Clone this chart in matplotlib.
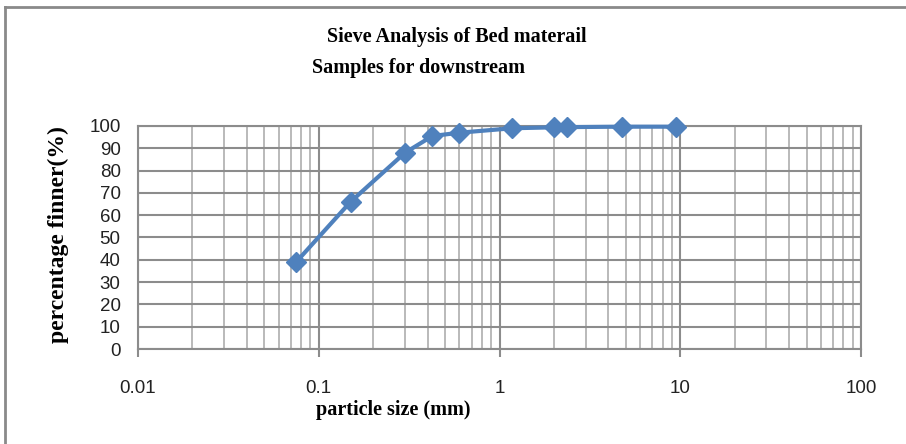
import matplotlib
matplotlib.use("Agg")
import matplotlib.pyplot as plt
from matplotlib.lines import Line2D
from matplotlib.ticker import FixedLocator, LogLocator, NullFormatter

# Data
particle_size = [0.075, 0.15, 0.3, 0.425, 0.6, 1.18, 2.0, 2.36, 4.75, 9.5]
percent_finer = [39, 66, 88, 95.5, 97, 99, 99.4, 99.5, 99.7, 99.7]
x_ticks = [0.01, 0.1, 1, 10, 100]
x_tick_labels = ["0.01", "0.1", "1", "10", "100"]
y_ticks = list(range(0, 101, 10))
title1 = "Sieve Analysis of Bed materail"
title2 = "Samples for downstream"
xlabel = "particle size (mm)"
ylabel = "percentage finner(%)"

W, H = 906, 444
fig = plt.figure(figsize=(W / 100, H / 100), dpi=100)
ax = fig.add_axes([138 / W, (H - 349) / H, (861 - 138) / W, (349 - 126) / H])

ax.set_xscale("log")
ax.set_xlim(0.01, 100)
ax.set_ylim(0, 100)

ax.plot(particle_size, percent_finer, color="#4F81BD", lw=3,
        marker="D", markersize=10, markerfacecolor="#4F81BD",
        markeredgecolor="#4F81BD", zorder=5, clip_on=False)

ax.xaxis.set_major_locator(FixedLocator(x_ticks))
ax.set_xticklabels(x_tick_labels)
ax.xaxis.set_minor_locator(LogLocator(base=10, subs=range(2, 10)))
ax.xaxis.set_minor_formatter(NullFormatter())
ax.set_yticks(y_ticks)

tick_family = ["Liberation Sans Narrow", "Liberation Sans"]
for lab in ax.get_xticklabels() + ax.get_yticklabels():
    lab.set_fontfamily(tick_family)
    lab.set_fontsize(13.5)
    lab.set_color("#222222")

ax.grid(which="major", axis="y", color="#8c8c8c", lw=1.5)
ax.grid(which="major", axis="x", color="#8c8c8c", lw=1.5)
ax.grid(which="minor", axis="x", color="#b4b4b4", lw=1.3)
ax.set_axisbelow(True)

for s in ax.spines.values():
    s.set_color("#8c8c8c")
    s.set_linewidth(1.5)

ax.tick_params(axis="x", which="major", direction="out", length=6, width=1.5,
               color="#8c8c8c", pad=16)
ax.tick_params(axis="x", which="minor", length=0)
ax.tick_params(axis="y", which="major", length=0, pad=12.5)

serif = ["Liberation Serif", "DejaVu Serif"]
fig.text(457 / W, 1 - 37 / H, title1, ha="center", va="center",
         fontfamily=serif, fontweight="bold", fontsize=14.5)
fig.text(418 / W, 1 - 68 / H, title2, ha="center", va="center",
         fontfamily=serif, fontweight="bold", fontsize=14.5)
fig.text(393 / W, 1 - 410 / H, xlabel, ha="center", va="center",
         fontfamily=serif, fontweight="bold", fontsize=14.5)
fig.text(58 / W, 1 - 235 / H, ylabel, ha="center", va="center",
         rotation=90, fontfamily=serif, fontweight="bold", fontsize=17)

# figure border (top and left visible)
fig.add_artist(Line2D([4.5 / W, 1], [1 - 7 / H, 1 - 7 / H], transform=fig.transFigure,
                      color="#8a8a8a", lw=2))
fig.add_artist(Line2D([4.5 / W, 4.5 / W], [0, 1 - 7 / H], transform=fig.transFigure,
                      color="#8a8a8a", lw=2))

fig.savefig("out.png", dpi=100, facecolor="white")
